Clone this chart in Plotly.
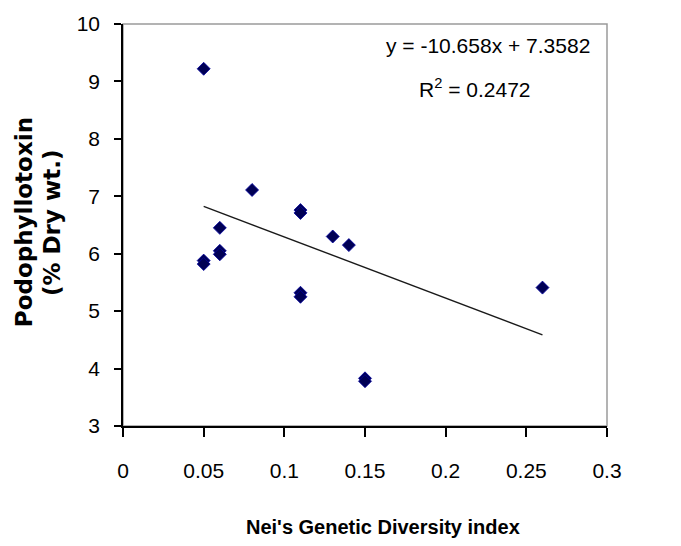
import plotly.graph_objects as go
import numpy as np

# Data
diversity = [0.05, 0.05, 0.05, 0.06, 0.06, 0.06, 0.08, 0.11, 0.11, 0.11, 0.11, 0.13, 0.14, 0.15, 0.15, 0.26]
podophyllotoxin = [9.22, 5.88, 5.82, 6.45, 6.05, 5.99, 7.11, 6.76, 6.71, 5.32, 5.25, 6.30, 6.15, 3.83, 3.78, 5.41]

trend_slope = -10.658
trend_intercept = 7.3582
r_squared = 0.2472

x_ticks = [0, 0.05, 0.1, 0.15, 0.2, 0.25, 0.3]
x_tick_labels = ["0", "0.05", "0.1", "0.15", "0.2", "0.25", "0.3"]
y_ticks = [3, 4, 5, 6, 7, 8, 9, 10]
y_tick_labels = ["3", "4", "5", "6", "7", "8", "9", "10"]

x_title = "Nei's Genetic Diversity index"
y_title_1 = "Podophyllotoxin"
y_title_2 = "(% Dry wt.)"

tick_font = dict(family="Liberation Sans Narrow, Arial Narrow, Liberation Sans, Arial, sans-serif", size=21, color="black")
ytitle_font = dict(family="DejaVu Sans, Verdana, sans-serif", size=23, color="black", weight="bold")

fig = go.Figure()

trend_x = np.array([min(diversity), max(diversity)])
trend_y = trend_slope * trend_x + trend_intercept
fig.add_trace(go.Scatter(x=trend_x, y=trend_y, mode="lines",
                         line=dict(color="#1a1a1a", width=1.4), showlegend=False, hoverinfo="skip"))

fig.add_trace(go.Scatter(x=diversity, y=podophyllotoxin, mode="markers",
                         marker=dict(symbol="diamond", size=10, color="#000055",
                                     line=dict(color="#0000a0", width=0.8)),
                         showlegend=False))

fig.update_layout(
    width=681, height=546,
    margin=dict(l=123, r=74, t=20, b=120),
    paper_bgcolor="white", plot_bgcolor="white",
    xaxis=dict(range=[0, 0.3], tickvals=x_ticks, ticktext=x_tick_labels,
               showgrid=False, zeroline=False, showline=True, linecolor="black", linewidth=1.5,
               ticks="outside", ticklen=9, tickwidth=1.5, tickcolor="black",
               tickfont=tick_font, ticklabelstandoff=16),
    yaxis=dict(range=[3, 10], tickvals=y_ticks, ticktext=y_tick_labels,
               showgrid=False, zeroline=False, showline=True, linecolor="black", linewidth=1.5,
               ticks="outside", ticklen=7, tickwidth=1.5, tickcolor="black",
               tickfont=tick_font, ticklabelstandoff=10),
)

# light grey plot-area frame (top / right)
fig.add_shape(type="rect", xref="paper", yref="paper", x0=0, y0=0, x1=1, y1=1,
              line=dict(color="#9a9a9a", width=1.5), layer="below")

eq_text = f"y = {trend_slope}x + {trend_intercept}"
fig.add_annotation(x=0.754, y=0.947, xref="paper", yref="paper", text=eq_text,
                   showarrow=False, font=tick_font, xanchor="center", yanchor="middle")
fig.add_annotation(x=0.727, y=0.84, xref="paper", yref="paper",
                   text=f"R<sup>2</sup> = {r_squared}",
                   showarrow=False, font=tick_font, xanchor="center", yanchor="middle")

fig.add_annotation(x=0.538, y=-0.251, xref="paper", yref="paper",
                   text=x_title,
                   showarrow=False,
                   font=dict(family="Liberation Sans, Arial, sans-serif", size=20, color="black", weight="bold"),
                   xanchor="center", yanchor="middle")
fig.add_annotation(x=-0.2045, y=0.507, xref="paper", yref="paper", textangle=-90,
                   text=y_title_1, showarrow=False, font=ytitle_font,
                   xanchor="center", yanchor="middle")
fig.add_annotation(x=-0.147, y=0.507, xref="paper", yref="paper", textangle=-90,
                   text=y_title_2, showarrow=False, font=ytitle_font,
                   xanchor="center", yanchor="middle")

fig.write_html("out.html")
